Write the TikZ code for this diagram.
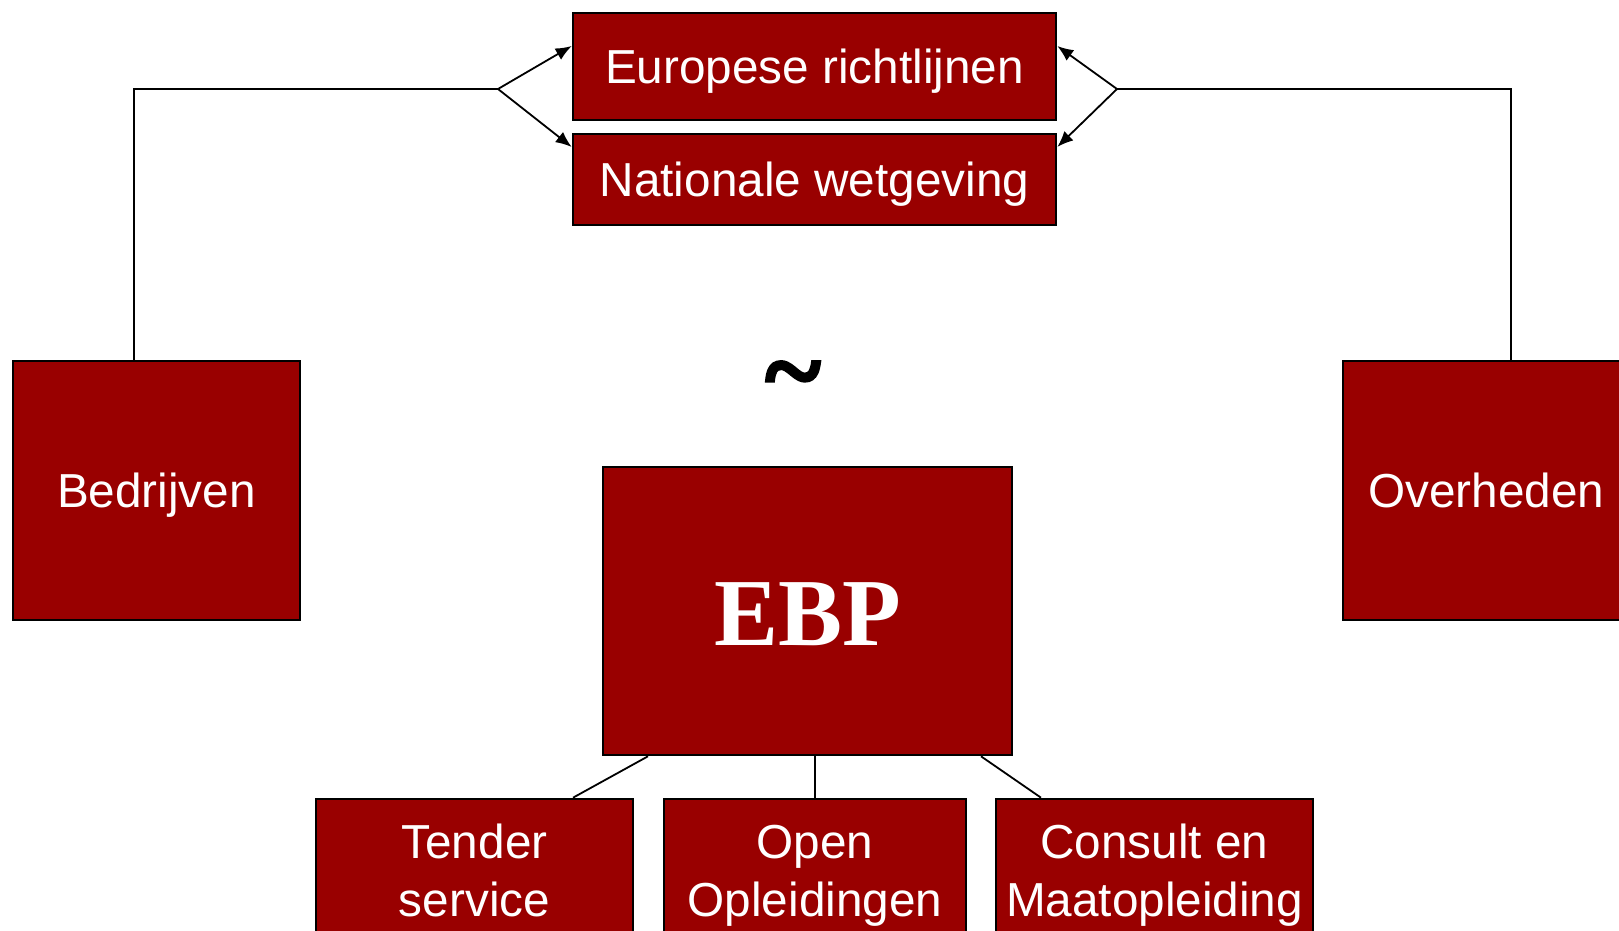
\documentclass[tikz,border=0pt]{standalone}
\usepackage{fontspec}
\setmainfont{Liberation Sans}
\newfontfamily\timesfont{Liberation Serif}
\newfontfamily\tildefont{Liberation Serif}[FakeBold=2.5]
\usetikzlibrary{arrows.meta}
\definecolor{darkred}{RGB}{153,0,0}

\begin{document}
\begin{tikzpicture}[x=0.5pt,y=-0.5pt]
\clip (0,0) rectangle (1619,931);
\begin{scope}[every node/.style={draw=black,line width=1.3pt,fill=darkred,text=white,
              inner sep=0pt,align=center,text height=17.1pt,text depth=0pt,
              font=\fontsize{23.85}{29}\selectfont}]
    \node (eur)[minimum width=241.5pt,minimum height=53.5pt] at (814.5,66.5) {Europese richtlijnen};
    \node (nat)[minimum width=241.5pt,minimum height=45.5pt] at (814.5,179.5) {Nationale wetgeving};
    \node (bed)[minimum width=143.5pt,minimum height=129.5pt] at (156.5,490.5) {Bedrijven};
    \node (ovh)[minimum width=143.5pt,minimum height=129.5pt] at (1486.5,490.5) {Overheden};
    \node (ebp)[minimum width=204.5pt,minimum height=144pt,text height=34.8pt,
                font=\timesfont\bfseries\fontsize{48}{48}\selectfont] at (807.5,611) {EBP};
    \node (tender)[minimum width=158.5pt,minimum height=71pt,text height=46.1pt] at (474.5,870) {Tender\\service};
    \node (open)[minimum width=151pt,minimum height=71pt,text height=46.1pt] at (815,870) {Open\\Opleidingen};
    \node (consult)[minimum width=158.5pt,minimum height=71pt,text height=46.1pt] at (1154.5,870) {Consult en\\Maatopleiding};
\end{scope}

\node (tilde)[anchor=north,inner sep=0pt,font=\tildefont\bfseries\fontsize{53}{53}\selectfont]
    at (793,361) {\textasciitilde};

\begin{scope}[line width=0.9pt,
              every edge/.style={draw=black,line width=0.9pt,-{Latex[length=8pt,width=6.5pt]}}]
    \coordinate (bl) at (134,89);
    \coordinate (jl) at (498,89);
    \coordinate (jr) at (1117,89);
    \coordinate (br) at (1511,89);
    \draw (bed.north -| bl) -- (bl) -- (jl);
    \draw (ovh.north -| br) -- (br) -- (jr);
    \path (jl) edge ([yshift=10.25pt]eur.west);
    \path (jl) edge ([yshift=16.25pt]nat.west);
    \path (jr) edge ([yshift=10.25pt]eur.east);
    \path (jr) edge ([yshift=16.25pt]nat.east);
    \draw ([xshift=-79.75pt]ebp.south) -- ([xshift=49.25pt]tender.north);
    \draw ([xshift=3.75pt]ebp.south) -- (open.north);
    \draw ([xshift=86.75pt]ebp.south) -- ([xshift=-56.75pt]consult.north);
\end{scope}
\end{tikzpicture}
\end{document}
